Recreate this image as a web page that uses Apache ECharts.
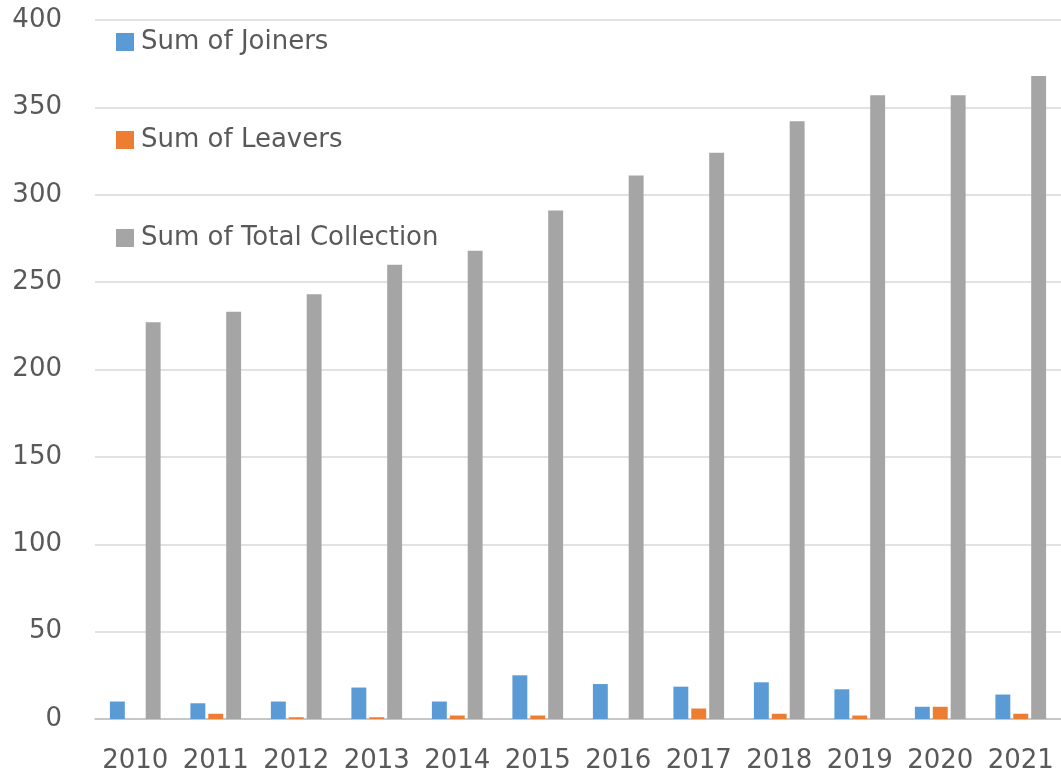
<!DOCTYPE html>
<html>
<head>
<meta charset="utf-8">
<script src="https://cdn.jsdelivr.net/npm/echarts@6/dist/echarts.min.js"></script>
<style>html,body{margin:0;padding:0;background:#fff;}#c{width:1061px;height:775px;}</style>
</head>
<body>
<div id="c"></div>
<script>
const categories = ['2010','2011','2012','2013','2014','2015','2016','2017','2018','2019','2020','2021'];
const joiners = [10, 9, 10, 18, 10, 25, 20, 18.5, 21, 17, 7, 14];
const leavers = [0, 3, 1, 1, 2, 2, 0, 6, 3, 2, 7, 3];
const totalCollection = [227, 233, 243, 260, 268, 291, 311, 324, 342, 357, 357, 368];
const yTicks = [0, 50, 100, 150, 200, 250, 300, 350, 400];

const font = '"DejaVu Sans", "Open Sans", Arial, sans-serif';
const chart = echarts.init(document.getElementById('c'), null, {renderer: 'canvas'});
chart.setOption({
  animation: false,
  backgroundColor: '#ffffff',
  color: ['#5b9bd5', '#ed7d31', '#a5a5a5'],
  grid: {left: 95, right: 0, top: 20, bottom: 56, containLabel: false},
  legend: {
    orient: 'vertical', left: 111, top: 24,
    itemWidth: 18, itemHeight: 18, itemGap: 72, icon: 'rect',
    textStyle: {fontFamily: font, fontSize: 26, color: '#595959', padding: [0,0,0,2]},
    data: ['Sum of Joiners', 'Sum of Leavers', 'Sum of Total Collection']
  },
  xAxis: {
    type: 'category', data: categories,
    axisLine: {lineStyle: {color: '#bfbfbf', width: 1.5}},
    axisTick: {show: false},
    axisLabel: {fontFamily: font, fontSize: 26, color: '#595959', margin: 29, interval: 0, hideOverlap: false}
  },
  yAxis: {
    type: 'value', min: yTicks[0], max: yTicks[yTicks.length-1], interval: 50,
    axisLine: {show: false}, axisTick: {show: false},
    splitLine: {lineStyle: {color: '#d9d9d9', width: 1.5}},
    axisLabel: {fontFamily: font, fontSize: 26, color: '#595959', margin: 33}
  },
  series: [
    {name: 'Sum of Joiners', type: 'bar', data: joiners, barGap: '20%', barCategoryGap: '37%'},
    {name: 'Sum of Leavers', type: 'bar', data: leavers},
    {name: 'Sum of Total Collection', type: 'bar', data: totalCollection}
  ]
});
</script>
</body>
</html>
